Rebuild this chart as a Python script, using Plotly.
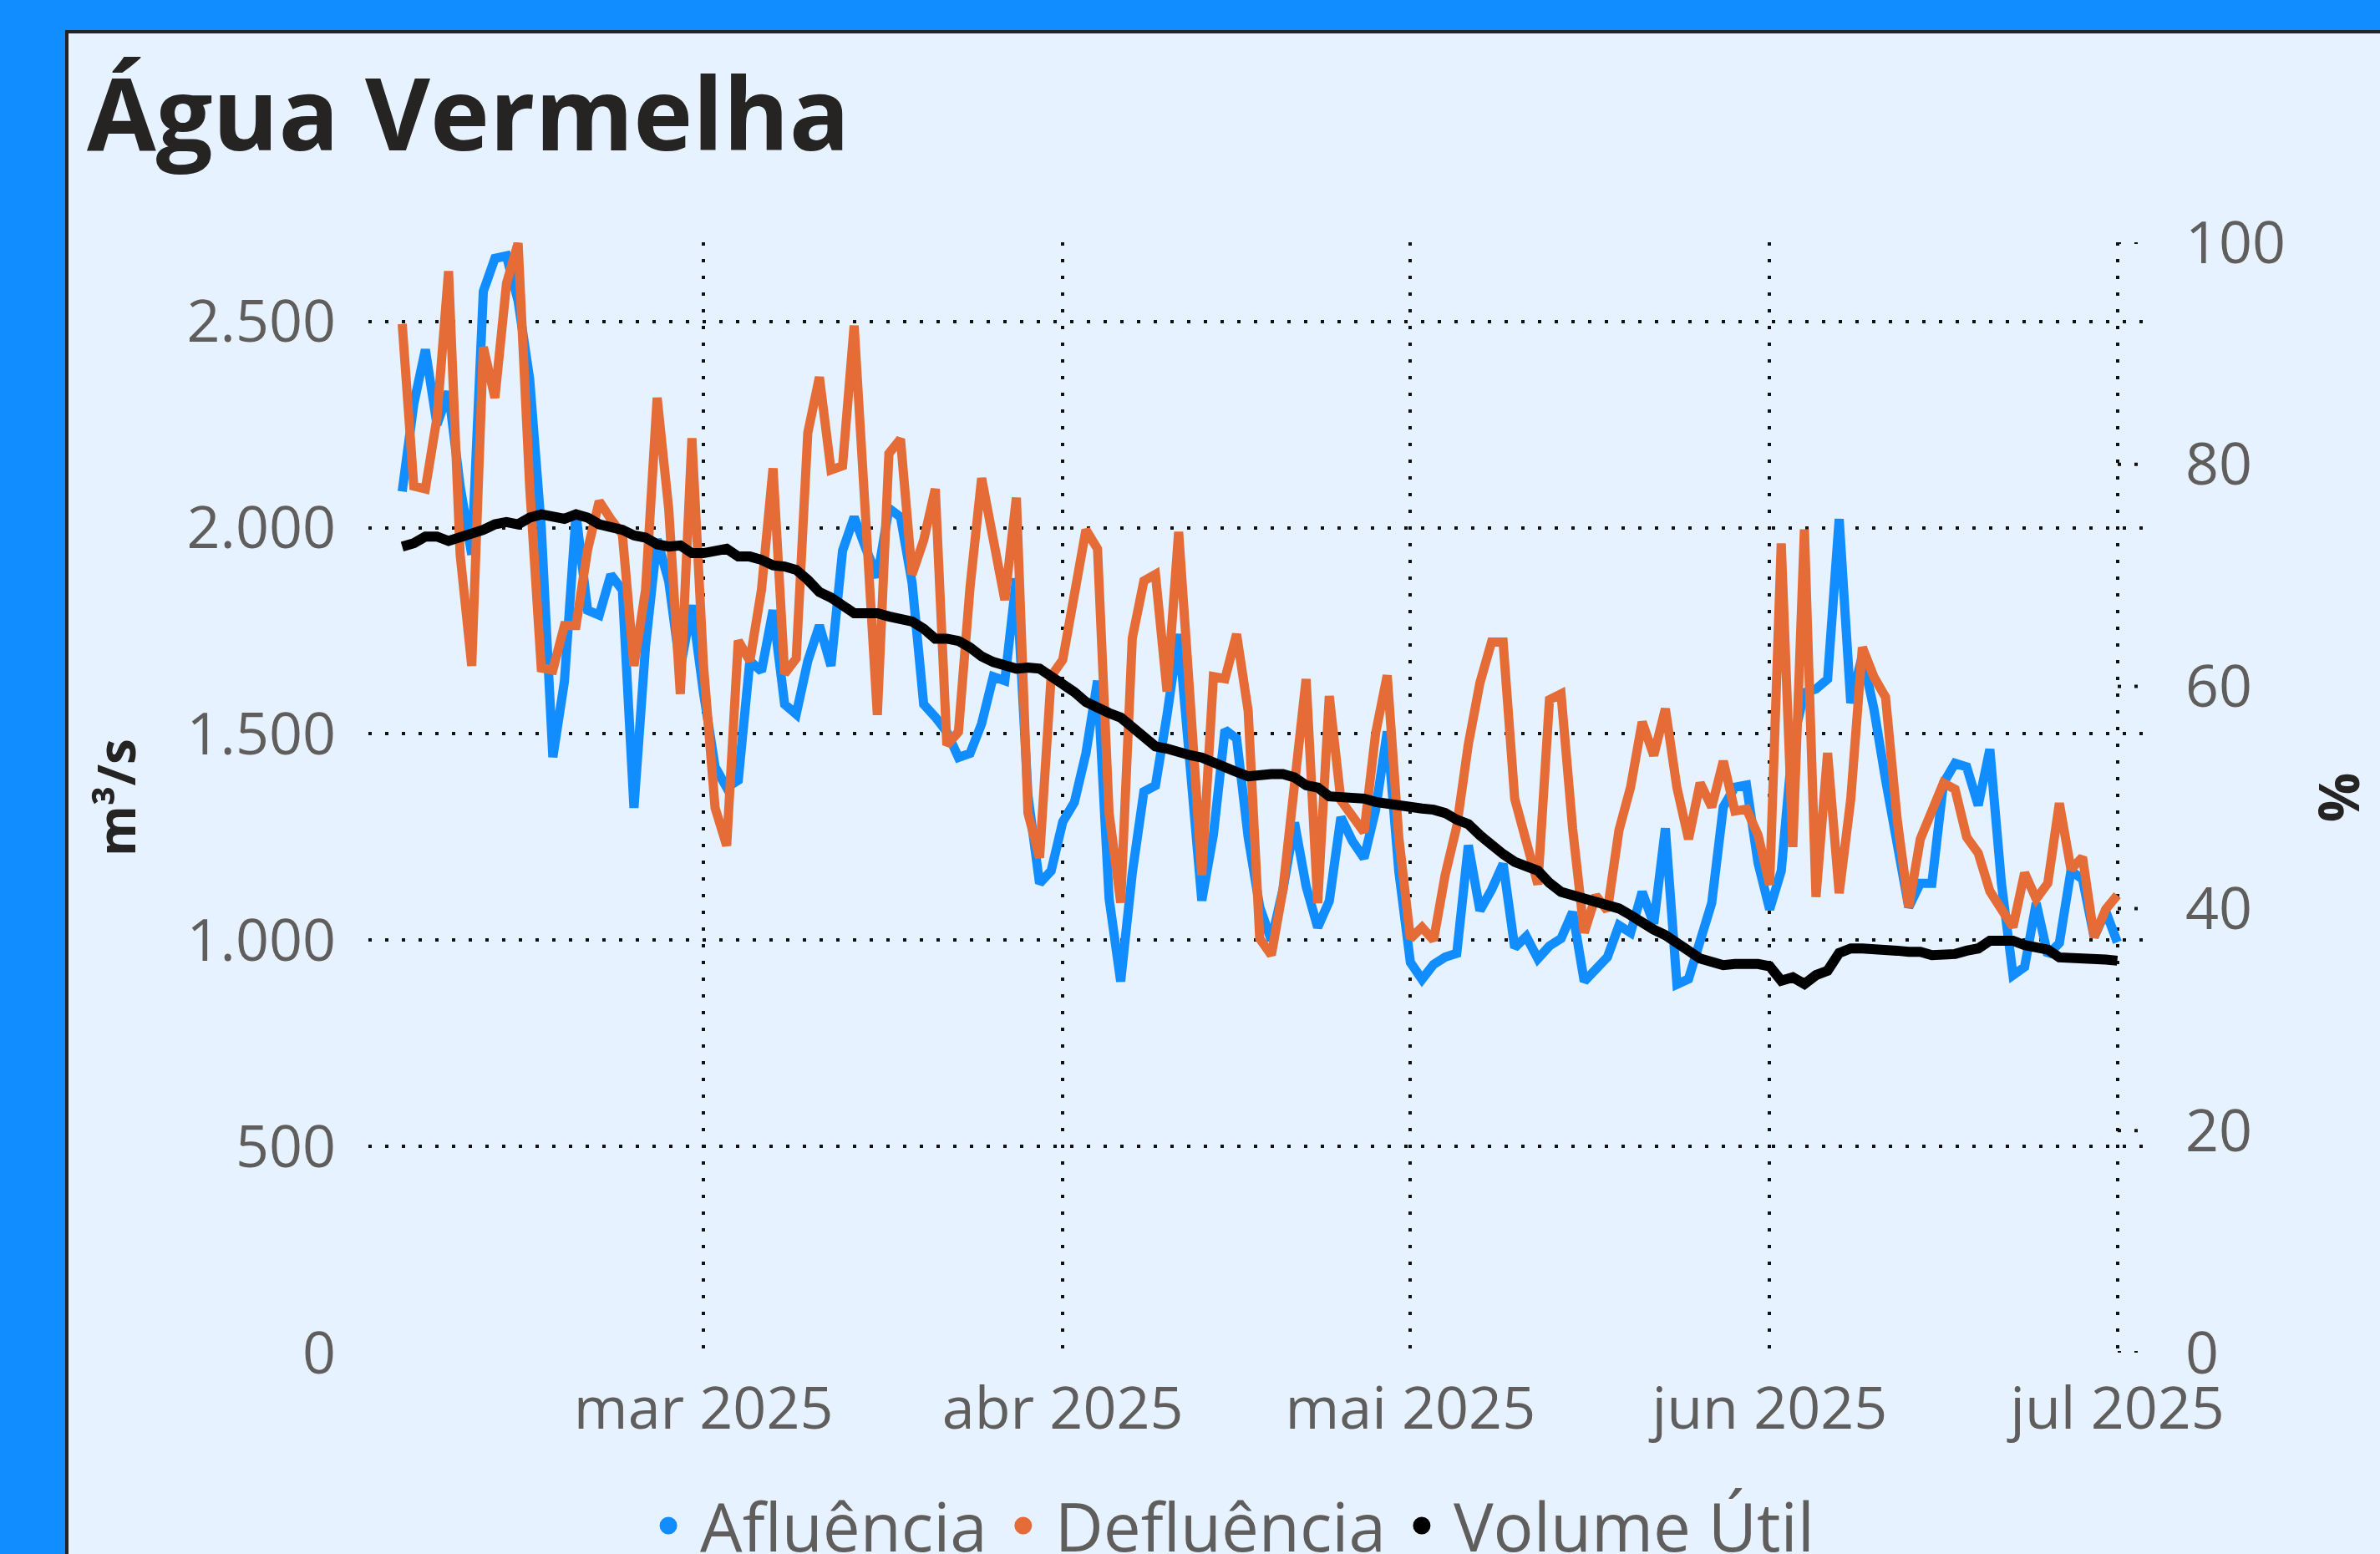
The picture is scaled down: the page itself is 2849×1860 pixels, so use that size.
import pandas as pd
import plotly.graph_objects as go

# ---------------- data ----------------
start_date = "2025-02-03"

afluencia = [
    2088, 2300, 2432, 2250, 2330, 2100, 1935, 2573, 2653, 2659,
    2550, 2360, 2000, 1444, 1628, 2033, 1800, 1788, 1886, 1849,
    1321, 1714, 1972, 1870, 1660, 1812, 1600, 1420, 1370, 1388,
    1677, 1652, 1800, 1572, 1548, 1677, 1763, 1665, 1944, 2026,
    1950, 1880, 2047, 2026, 1866, 1572, 1541, 1505, 1443, 1453,
    1525, 1639, 1629, 1877, 1350, 1138, 1168, 1287, 1334, 1453,
    1629, 1101, 900, 1163, 1360, 1375, 1546, 1742, 1420, 1096,
    1256, 1510, 1489, 1250, 1080, 1000, 1122, 1285, 1131, 1031,
    1095, 1298, 1240, 1199, 1316, 1506, 1167, 946, 905, 941,
    959, 968, 1230, 1072, 1122, 1185, 982, 1009, 955, 986,
    1004, 1068, 900, 932, 959, 1036, 1018, 1117, 1040, 1271,
    893, 906, 1003, 1090, 1323, 1371, 1376, 1187, 1075, 1168,
    1480, 1600, 1609, 1633, 2021, 1575, 1690, 1560, 1390, 1220,
    1080, 1138, 1138, 1381, 1429, 1420, 1327, 1463, 1138, 915,
    935, 1090, 964, 993, 1168, 1148, 1008, 1070, 995,
]

defluencia = [
    2494, 2101, 2094, 2266, 2622, 1935, 1665, 2438, 2315, 2592,
    2690, 2100, 1660, 1655, 1763, 1763, 1947, 2064, 2021, 1984,
    1665, 1849, 2315, 2045, 1597, 2217, 1665, 1321, 1229, 1726,
    1677, 1849, 2144, 1646, 1683, 2230, 2365, 2140, 2150, 2490,
    2020, 1546, 2180, 2215, 1887, 1970, 2094, 1473, 1505, 1856,
    2120, 1960, 1825, 2073, 1308, 1200, 1640, 1680, 1846, 1995,
    1949, 1308, 1091, 1732, 1871, 1887, 1603, 1990, 1580, 1158,
    1639, 1634, 1742, 1556, 1004, 964, 1122, 1400, 1633, 1090,
    1592, 1339, 1298, 1262, 1502, 1642, 1249, 1004, 1031, 1000,
    1158, 1276, 1475, 1624, 1723, 1723, 1343, 1239, 1135, 1583,
    1597, 1270, 1018, 1108, 1072, 1267, 1371, 1529, 1448, 1561,
    1370, 1245, 1381, 1323, 1434, 1313, 1318, 1255, 1134, 1962,
    1226, 1996, 1105, 1454, 1114, 1342, 1710, 1638, 1589, 1294,
    1080, 1245, 1307, 1381, 1366, 1250, 1211, 1119, 1075, 1032,
    1163, 1100, 1138, 1332, 1172, 1201, 1008, 1075, 1109,
]

volume_util = [
    72.6, 72.9, 73.5, 73.5, 73.1, 73.4, 73.8, 74.1, 74.6, 74.8,
    74.6, 75.2, 75.5, 75.2, 75.1, 75.5, 75.2, 74.6, 74.4, 74.1,
    73.6, 73.4, 72.8, 72.6, 72.7, 72.0, 72.0, 72.1, 72.4, 71.7,
    71.7, 71.4, 70.9, 70.8, 70.5, 69.6, 68.5, 68.0, 67.4, 66.6,
    66.6, 66.6, 66.3, 66.05, 65.85, 65.2, 64.3, 64.3, 64.1, 63.5,
    62.7, 62.2, 61.9, 61.6, 61.7, 61.6, 60.9, 60.3, 59.5, 58.6,
    58.0, 57.6, 57.2, 56.3, 55.4, 54.6, 54.4, 54.0, 53.8, 53.6,
    53.1, 52.8, 52.3, 51.9, 52.1, 52.1, 52.1, 51.8, 51.1, 50.9,
    50.1, 50.1, 50.0, 49.9, 49.6, 49.4, 49.3, 49.2, 49.0, 48.9,
    48.6, 48.0, 47.6, 46.6, 45.7, 44.9, 44.2, 43.9, 43.4, 42.3,
    41.5, 41.2, 40.9, 40.7, 40.4, 40.0, 39.4, 38.7, 38.1, 37.6,
    36.9, 36.2, 35.5, 35.2, 34.9, 35.0, 35.1, 35.0, 34.8, 33.5,
    33.8, 33.2, 34.0, 34.4, 36.0, 36.4, 36.4, 36.4, 36.2, 36.2,
    36.1, 36.1, 35.8, 35.8, 35.9, 36.2, 36.4, 37.1, 37.2, 37.1,
    36.7, 36.6, 36.3, 35.6, 35.6, 35.4, 35.4, 35.4, 35.3,
]

dates = pd.date_range(start_date, periods=len(volume_util), freq="D")

month_ticks = ["2025-03-01", "2025-04-01", "2025-05-01", "2025-06-01", "2025-07-01"]
month_labels = ["mar 2025", "abr 2025", "mai 2025", "jun 2025", "jul 2025"]
y_left_ticks = [0, 500, 1000, 1500, 2000, 2500]
y_right_ticks = [0, 20, 40, 60, 80, 100]

series_names = ["Afluência", "Defluência", "Volume Útil"]
series_colors = ["#118DFF", "#E66C37", "#000000"]

# ---------------- style ----------------
W, H = 2849, 1860
L, R, T, B = 441, 2575, 290, 1619
pw, ph = R - L, B - T


def px_to_paper_x(px):
    return (px - L) / pw


def px_to_paper_y(py):
    return (B - py) / ph


FONT = "Open Sans"
GREY = "#605E5C"
DARK = "#252423"
GRID_DASH = "4px,16px"

fig = go.Figure()

fig.add_trace(go.Scatter(x=dates, y=afluencia, name=series_names[0], mode="lines",
                         line=dict(color=series_colors[0], width=11), showlegend=False))
fig.add_trace(go.Scatter(x=dates, y=defluencia, name=series_names[1], mode="lines",
                         line=dict(color=series_colors[1], width=11), showlegend=False))
fig.add_trace(go.Scatter(x=dates, y=volume_util, name=series_names[2], mode="lines",
                         line=dict(color=series_colors[2], width=12), yaxis="y2",
                         showlegend=False))

# legend entries as round markers
for nm, col in zip(series_names, series_colors):
    fig.add_trace(go.Scatter(x=[None], y=[None], name=nm, mode="markers",
                             marker=dict(color=col, size=16, symbol="circle",
                                         line=dict(color=col, width=5)),
                             showlegend=True))

shapes = []
# light panel with dark border
shapes.append(dict(type="rect", xref="paper", yref="paper",
                   x0=px_to_paper_x(80), x1=px_to_paper_x(W + 50),
                   y0=px_to_paper_y(H + 50), y1=px_to_paper_y(38),
                   fillcolor="#E6F2FF", line=dict(color=DARK, width=4), layer="below"))
# short dotted stubs for secondary axis grid
for v in y_right_ticks:
    shapes.append(dict(type="line", xref="paper", yref="y2",
                       x0=px_to_paper_x(2535), x1=1.0, y0=v, y1=v,
                       line=dict(color="#111111", width=4, dash=GRID_DASH), layer="below"))

fig.update_layout(
    width=W, height=H, autosize=False,
    margin=dict(l=L, r=W - R, t=T, b=H - B, autoexpand=False),
    paper_bgcolor="#118DFF",
    plot_bgcolor="rgba(0,0,0,0)",
    separators=",.",
    font=dict(family=FONT, color=GREY, size=70),
    shapes=shapes,
    title=dict(text="Água Vermelha", x=104 / W, xanchor="left", xref="container",
               y=1 - 138 / H, yanchor="middle", yref="container",
               font=dict(family=FONT, size=120, color=DARK, weight=700)),
    showlegend=True,
    legend=dict(orientation="h", x=0.482, xanchor="center", y=px_to_paper_y(1826),
                yanchor="middle", font=dict(family=FONT, size=80, color=GREY),
                bgcolor="rgba(0,0,0,0)", itemsizing="trace", itemwidth=66,
                tracegroupgap=0),
    xaxis=dict(
        range=["2025-01-31 02:00", "2025-07-03 22:00"],
        tickvals=month_ticks, ticktext=month_labels,
        showgrid=True, gridcolor="#111111", gridwidth=4, griddash=GRID_DASH,
        zeroline=False, showline=False, ticks="",
        tickfont=dict(family=FONT, size=70, color=GREY),
        ticklabelstandoff=20,
    ),
    yaxis=dict(
        range=[0, 2692], tickvals=y_left_ticks, tickformat=",d",
        showgrid=True, gridcolor="#111111", gridwidth=4, griddash=GRID_DASH,
        zeroline=False, showline=False, ticks="",
        tickfont=dict(family=FONT, size=70, color=GREY),
        ticklabelstandoff=38,
        title=dict(text="m³/s", standoff=40,
                   font=dict(family=FONT, size=62, color=DARK, weight=700)),
    ),
    yaxis2=dict(
        range=[0, 100], tickvals=y_right_ticks, overlaying="y", side="right",
        showgrid=False, zeroline=False, showline=False, ticks="",
        tickfont=dict(family=FONT, size=70, color=GREY),
        ticklabelstandoff=40,
        title=dict(text="%", standoff=42,
                   font=dict(family=FONT, size=66, color=DARK, weight=700)),
    ),
)

fig.write_html("out.html", config={"displayModeBar": False},
               post_script="document.body.style.margin='0';document.body.style.overflow='hidden';")
